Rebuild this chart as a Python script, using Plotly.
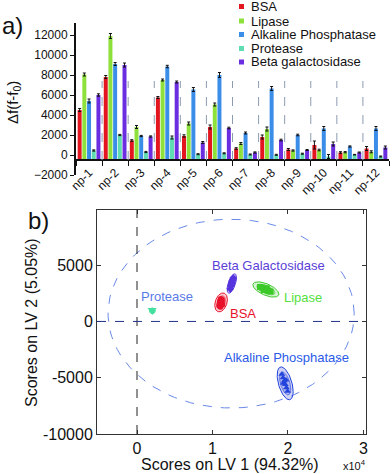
import numpy as np
import plotly.graph_objects as go

# ---- a) bar chart data ----
groups = ["np-1", "np-2", "np-3", "np-4", "np-5", "np-6",
          "np-7", "np-8", "np-9", "np-10", "np-11", "np-12"]
enzymes = ["BSA", "Lipase", "Alkaline Phosphatase", "Protease", "Beta galactosidase"]
bar_colors = ["#e3151f", "#8ee03a", "#3a8ee8", "#5fdcb0", "#6a2de0"]

bsa = [4500, 7800, 1450, 5750, 1900, 2800, 650, 1800, 550, 1000, 250, 650]
lipase = [8050, 11900, 2800, 7500, 3150, 5050, 1150, 2600, 450, 500, 280, 320]
alk_phos = [5400, 9100, 1900, 8850, 6550, 8000, 2200, 6650, 2000, 2650, 850, 2650]
protease = [450, 2000, 300, 1750, 80, 170, 50, 20, 130, -150, 30, -150]
beta_gal = [6000, 9000, 1850, 7300, 1250, 2700, 250, 1500, 500, 1100, 250, 750]

bsa_err = [150, 150, 80, 100, 120, 200, 80, 200, 100, 400, 80, 200]
lipase_err = [150, 250, 150, 100, 150, 150, 100, 200, 60, 80, 60, 100]
alk_phos_err = [200, 150, 60, 120, 200, 250, 100, 200, 80, 200, 60, 200]
protease_err = [60, 60, 60, 150, 50, 50, 50, 50, 50, 200, 30, 50]
beta_gal_err = [120, 200, 60, 100, 100, 80, 60, 80, 50, 200, 50, 150]

bar_base = -500
divider_top = 7400

# ---- b) PLS scores data ----
clusters = ["BSA", "Lipase", "Alkaline Phosphatase", "Protease", "Beta Galactosidase"]
cl_colors = ["#e8102a", "#3cc828", "#2244dd", "#44e0a0", "#5533dd"]
label_colors = ["#e8102a", "#55e040", "#2a5ae8", "#5a7ae8", "#5b3fd8"]
cl_fills = ["rgba(240,110,120,0.35)", "rgba(120,220,110,0.30)", "rgba(120,130,225,0.35)",
            "rgba(90,230,170,0.30)", "rgba(150,130,235,0.30)"]
cl_symbols = ["circle", "square", "triangle-up", "triangle-down", "diamond"]

bsa_x = [10900, 11000, 11100, 11200, 11300, 11050, 11250, 11150, 11000]
bsa_y = [1400, 1800, 2000, 1700, 1500, 1300, 1900, 1550, 1650]
lipase_x = [16300, 16600, 16900, 17100, 17400, 17700, 16800, 17200]
lipase_y = [3050, 3000, 2900, 2850, 2700, 2650, 2800, 2950]
alk_x = [19200, 19350, 19500, 19650, 19800, 19950, 19400, 19750]
alk_y = [-4700, -5000, -5300, -5600, -5900, -6200, -5500, -5200]
prot_x = [1850, 2000, 2150, 2050]
prot_y = [1050, 950, 1050, 850]
beta_x = [12350, 12450, 12550, 12650, 12750, 12500, 12600]
beta_y = [2900, 3150, 3400, 3650, 3850, 3250, 3500]

# confidence ellipses: centre, half-width, half-height, correlation
ell_cx = [11140, 17070, 19630, 2030, 12560]
ell_cy = [1690, 2840, -5500, 940, 3370]
ell_dx = [840, 1720, 1060, 380, 620]
ell_dy = [840, 680, 1460, 260, 860]
ell_rho = [0.3, -0.6, -0.5, 0.0, 0.6]

# overall 95% ellipse
big_cx, big_cy, big_dx, big_dy = 12470, 695, 16310, 8385

label_x = [14100, 21990, 19800, 3980, 17480]
label_y = [710, 2094, -3230, 2183, 4995]

W, H = 392, 474
FONT = "Liberation Sans, Arial, sans-serif"


def px(x):
    return x / W


def py(y):
    return 1 - y / H


def ellipse(cx, cy, dx, dy, rho, scale=1.0):
    t = np.linspace(0, 2 * np.pi, 90)
    ex = cx + scale * dx * np.cos(t)
    ey = cy + scale * dy * (rho * np.cos(t) + np.sqrt(1 - rho ** 2) * np.sin(t))
    return ex, ey


fig = go.Figure()

series = [bsa, lipase, alk_phos, protease, beta_gal]
errors = [bsa_err, lipase_err, alk_phos_err, protease_err, beta_gal_err]
for name, vals, err, c in zip(enzymes, series, errors, bar_colors):
    fig.add_trace(go.Bar(
        x=groups, y=np.array(vals) - bar_base, base=bar_base, name=name,
        marker=dict(color=c, line_width=0),
        error_y=dict(type="data", array=err, color="#111", thickness=1, width=1.5),
        xaxis="x", yaxis="y", showlegend=False,
    ))

# big dashed ellipse
bx, by = ellipse(big_cx, big_cy, big_dx, big_dy, 0.0)
fig.add_trace(go.Scatter(x=bx, y=by, mode="lines", xaxis="x2", yaxis="y2",
                         line=dict(color="#6a8ae8", width=1, dash="dash"),
                         showlegend=False, hoverinfo="skip"))

pts = [(bsa_x, bsa_y), (lipase_x, lipase_y), (alk_x, alk_y), (prot_x, prot_y), (beta_x, beta_y)]
for i, name in enumerate(clusters):
    ox, oy = ellipse(ell_cx[i], ell_cy[i], ell_dx[i], ell_dy[i], ell_rho[i])
    fig.add_trace(go.Scatter(x=ox, y=oy, mode="lines", fill="toself", fillcolor=cl_fills[i],
                             line=dict(color=cl_colors[i], width=1), xaxis="x2", yaxis="y2",
                             showlegend=False, hoverinfo="skip"))
    ix, iy = ellipse(ell_cx[i], ell_cy[i], ell_dx[i], ell_dy[i], ell_rho[i], 0.7)
    fig.add_trace(go.Scatter(x=ix, y=iy, mode="lines", fill="toself", fillcolor=cl_fills[i],
                             line=dict(color=cl_colors[i], width=0.6), xaxis="x2", yaxis="y2",
                             showlegend=False, hoverinfo="skip"))
    fig.add_trace(go.Scatter(x=pts[i][0], y=pts[i][1], mode="markers", name=name,
                             marker=dict(color=cl_colors[i], size=6, symbol=cl_symbols[i]),
                             xaxis="x2", yaxis="y2", showlegend=False))

shapes = []
# dividers between groups
for k in range(len(groups) - 1):
    shapes.append(dict(type="line", xref="x", yref="y", x0=k + 0.5, x1=k + 0.5,
                       y0=bar_base, y1=divider_top,
                       line=dict(color="#8c9cb0", width=1, dash="dash")))
# zero lines in b)
shapes.append(dict(type="line", xref="x2", yref="y2", x0=0, x1=0, y0=-10000, y1=9900,
                   line=dict(color="#222", width=1, dash="dash")))
shapes.append(dict(type="line", xref="x2", yref="y2", x0=-5300, x1=30300, y0=0, y1=0,
                   line=dict(color="#223388", width=1, dash="dash")))

annotations = []
# legend of a)
leg_y = [6.5, 21, 34.5, 48.5, 62]
for name, c, yy in zip(enzymes, bar_colors, leg_y):
    shapes.append(dict(type="rect", xref="paper", yref="paper",
                       x0=px(239), x1=px(244), y0=py(yy + 2.5), y1=py(yy - 2.5),
                       fillcolor=c, line_width=0))
    annotations.append(dict(text=name, x=px(249), y=py(yy), xanchor="left",
                            font=dict(size=13, color="#111")))

for i, name in enumerate(clusters):
    annotations.append(dict(text=name, x=label_x[i], y=label_y[i], xref="x2", yref="y2",
                            font=dict(size=13, color=label_colors[i])))

annotations += [
    dict(text="a)", x=px(12), y=py(25), font=dict(size=24, color="#111")),
    dict(text="b)", x=px(38), y=py(221), font=dict(size=24, color="#111")),
    dict(text="Δf(f-f<sub>0</sub>)", x=px(13), y=py(103), textangle=-90,
         font=dict(size=15, color="#111")),
    dict(text="Scores on LV 1 (94.32%)", x=px(230), y=py(464), font=dict(size=16, color="#111")),
    dict(text="Scores on LV 2 (5.05%)", x=px(31), y=py(323), textangle=-90,
         font=dict(size=16, color="#111")),
    dict(text="x10<sup>4</sup>", x=px(354), y=py(465), font=dict(size=11, color="#111")),
]
for a in annotations:
    a.setdefault("xref", "paper")
    a.setdefault("yref", "paper")
    a.setdefault("showarrow", False)
    a.setdefault("xanchor", "center")
    a.setdefault("yanchor", "middle")

fig.update_layout(
    width=W, height=H, margin=dict(l=0, r=0, t=0, b=0, autoexpand=False),
    paper_bgcolor="white", plot_bgcolor="white",
    font=dict(family=FONT, color="#111"),
    barmode="group", bargap=0.1, bargroupgap=0.15,
    shapes=shapes, annotations=annotations,
    xaxis=dict(domain=[px(76), px(389)], anchor="free", position=py(160), automargin=False,
               showline=True, linecolor="#111", linewidth=2,
               ticks="outside", tickson="boundaries", ticklen=5, tickcolor="#111",
               tickangle=-45, tickfont=dict(size=12), showgrid=False),
    yaxis=dict(domain=[py(175), py(23)], anchor="x", range=[-2000, 13200], automargin=False,
               tickvals=[-2000, 0, 2000, 4000, 6000, 8000, 10000, 12000], tickformat="d",
               showline=True, linecolor="#111", linewidth=2, ticks="outside",
               ticklen=4, tickcolor="#111", tickfont=dict(size=12),
               showgrid=False, zeroline=False),
    xaxis2=dict(domain=[px(97), px(365.7)], anchor="y2", range=[-5300, 30300], automargin=False,
                tickvals=[0, 10000, 20000, 30000], ticktext=["0", "1", "2", "3"],
                showline=True, mirror="ticks", linecolor="#333", linewidth=1,
                ticks="inside", ticklen=4, tickcolor="#333", tickfont=dict(size=16),
                showgrid=False, zeroline=False),
    yaxis2=dict(domain=[py(434), py(210)], anchor="x2", range=[-10000, 9900], automargin=False,
                tickvals=[-10000, -5000, 0, 5000], ticktext=["-10000", "-5000", "0", "5000"],
                showline=True, mirror="ticks", linecolor="#333", linewidth=1,
                ticks="inside", ticklen=4, tickcolor="#333", tickfont=dict(size=16),
                showgrid=False, zeroline=False),
)

fig.write_html("out.html", config={"displayModeBar": False},
               post_script="document.body.style.margin='0';")
